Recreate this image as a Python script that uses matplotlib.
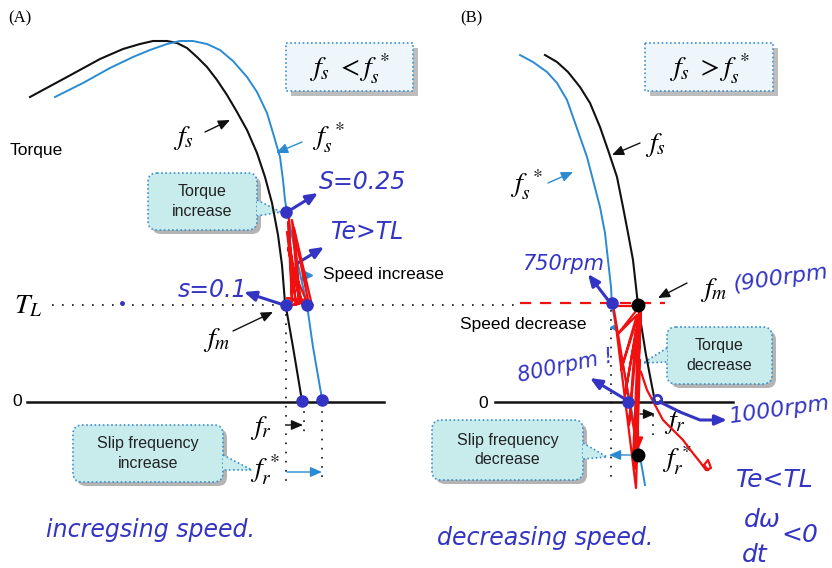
import matplotlib.pyplot as plt
from matplotlib.patches import FancyBboxPatch, Polygon

plt.rcParams['mathtext.fontset'] = 'stix'
plt.rcParams['font.family'] = ['Liberation Sans', 'DejaVu Sans']

# torque-speed curves, drawn in pixel units of the page (y grows downward)
a_fs_x = [30, 67, 100, 123, 140, 153, 167, 177, 187, 197, 207, 217, 227, 237, 247, 257,
          265, 272, 278, 282, 285, 287, 293, 302]
a_fs_y = [97, 77, 59, 49, 44, 41, 41, 43, 48, 57, 67, 80, 95, 112, 130, 153,
          177, 203, 235, 265, 303, 313, 347, 401]
a_fss_x = [55, 83, 110, 133, 150, 167, 180, 193, 207, 220, 233, 247, 257, 267, 273, 280,
           283, 285, 287, 297, 307, 313, 322]
a_fss_y = [97, 83, 68, 57, 50, 44, 41, 41, 44, 50, 61, 77, 92, 113, 133, 157,
           180, 200, 212, 260, 305, 347, 399]

b_fss_x = [520, 533, 547, 557, 567, 573, 580, 587, 593, 600, 605, 608, 611, 612, 621, 630, 638, 645]
b_fss_y = [55, 62, 72, 83, 100, 117, 137, 157, 180, 207, 233, 260, 287, 305, 355, 402, 445, 485]
b_fs_x = [545, 557, 568, 580, 590, 600, 608, 617, 623, 628, 633, 636, 638, 646, 655]
b_fs_y = [55, 62, 72, 87, 103, 127, 150, 177, 207, 233, 260, 287, 305, 355, 402]

TL_y = 305
zero_y = 402

# operating points
a_dots_x = [286, 286, 307, 302, 322]
a_dots_y = [212, 305, 305, 401, 400]
b_blue_x = [612, 628]
b_blue_y = [303, 402]
b_black_x = [638, 638]
b_black_y = [305, 455]

# scribbled areas between the curves
a_red_x = [289, 292, 288, 296, 287, 300, 288, 303, 290, 306, 287, 309, 292, 299, 286, 311, 294, 300]
a_red_y = [215, 302, 222, 305, 232, 302, 248, 306, 262, 300, 298, 305, 220, 304, 306, 301, 228, 300]
b_red_x = [613, 640, 617, 637, 621, 640, 625, 636, 629, 639, 633, 640, 636, 614, 637, 634, 641, 636]
b_red_y = [306, 306, 335, 315, 370, 310, 395, 330, 425, 318, 460, 360, 488, 310, 448, 470, 308, 440]
b_red_tail_x = [641, 647, 655, 663, 673, 683, 692, 700, 706, 711, 708, 704, 708]
b_red_tail_y = [372, 390, 405, 420, 430, 440, 452, 462, 470, 468, 460, 465, 470]

BLACK = '#111111'
BLUE = '#2a8bd2'
PEN = '#3434c4'
RED = '#f01010'
FILL = '#c8ecec'

fig = plt.figure(figsize=(8.32, 5.68), dpi=100)
ax = fig.add_axes([0, 0, 1, 1])
ax.set_xlim(0, 832)
ax.set_ylim(568, 0)
ax.axis('off')


def callout(x0, y0, x1, y1, base, tip, text):
    # rounded speech box with a wedge pointer and a grey drop shadow
    for dx, fc, ec in [(4, '#b4b4b4', 'none'), (0, FILL, '#3a8fd0')]:
        ax.add_patch(FancyBboxPatch((x0 + dx, y0 + dx), x1 - x0, y1 - y0,
                                    boxstyle='round,pad=0,rounding_size=9',
                                    fc=fc, ec=ec, lw=1.2, ls=(0, (1, 1.5)),
                                    zorder=3 if dx == 0 else 2))
    w = Polygon([base[0], tip, base[1]], closed=False, fc=FILL, ec='none', zorder=3.5)
    ax.add_patch(w)
    ax.plot([base[0][0], tip[0], base[1][0]], [base[0][1], tip[1], base[1][1]],
            color='#3a8fd0', lw=1.2, ls=(0, (1, 1.5)), zorder=3.6)
    ax.text((x0 + x1) / 2, (y0 + y1) / 2, text, ha='center', va='center',
            fontsize=11.5, color='#222222', linespacing=1.35, zorder=4)


def formula_box(x0, y0, x1, y1, text):
    ax.add_patch(FancyBboxPatch((x0 + 5, y0 + 5), x1 - x0, y1 - y0, boxstyle='square,pad=0',
                                fc='#bdbdbd', ec='none', zorder=2))
    ax.add_patch(FancyBboxPatch((x0, y0), x1 - x0, y1 - y0, boxstyle='square,pad=0',
                                fc='#eef6fc', ec='#3a8fd0', lw=1.2, ls=(0, (1, 1.5)), zorder=3))
    ax.text((x0 + x1) / 2, (y0 + y1) / 2 + 2, text, ha='center', va='center',
            fontsize=20, zorder=4)


def arrow(x0, y0, x1, y1, color, lw=1.0):
    ax.annotate('', xy=(x1, y1), xytext=(x0, y0),
                arrowprops=dict(arrowstyle='-|>,head_length=0.7,head_width=0.3',
                                color=color, lw=lw, shrinkA=0, shrinkB=0), zorder=5)


def pen(x, y, s, size=15, rot=0):
    ax.text(x, y, s, color=PEN, fontsize=size, rotation=rot, ha='center', va='center',
            family='DejaVu Sans', style='oblique', zorder=8)


# ---- panel (A) ----
ax.text(8, 18, '(A)', fontsize=12, family='Liberation Serif', va='center')
ax.plot(a_fs_x, a_fs_y, color=BLACK, lw=1.5, zorder=4)
ax.plot(a_fss_x, a_fss_y, color=BLUE, lw=1.4, zorder=4)
ax.plot([27, 384], [zero_y, zero_y], color=BLACK, lw=1.8, zorder=4)
ax.plot([52, 520], [TL_y, TL_y], color=BLACK, lw=1.2, ls=(0, (1, 5)), zorder=1)
ax.plot([286, 286], [TL_y, 482], color=BLACK, lw=1.2, ls=(0, (1, 4.5)), zorder=1)
ax.plot([304, 304], [zero_y, 436], color=BLACK, lw=1.2, ls=(0, (1, 4.5)), zorder=1)
ax.plot([322, 322], [zero_y, 482], color=BLACK, lw=1.2, ls=(0, (1, 4.5)), zorder=1)

ax.text(10, 150, 'Torque', fontsize=12.5, va='center')
ax.text(12, 402, '0', fontsize=12.5, va='center')
ax.text(14, 306, r'$T_L$', fontsize=20, va='center')
formula_box(286, 43, 413, 91, r'$f_s\ <f_s^{\,*}$')

ax.text(173, 138, r'$f_s$', fontsize=20, va='center')
arrow(205, 132, 230, 120, BLACK)
ax.text(312, 138, r'$f_s^{\ *}$', fontsize=20, va='center')
arrow(302, 142, 276, 153, BLUE)
ax.text(203, 340, r'$f_m$', fontsize=20, va='center')
arrow(233, 331, 273, 312, BLACK)
ax.text(250, 428, r'$f_r$', fontsize=20, va='center')
arrow(287, 425, 303, 425, BLACK)
ax.text(250, 470, r'$f_r^{\,*}$', fontsize=20, va='center')
arrow(287, 472, 322, 472, BLUE)

ax.plot([307], [275], marker='>', color=BLUE, ms=7, zorder=5)
ax.text(323, 275, 'Speed increase', fontsize=12.5, va='center')

callout(148, 173, 257, 230, [(257, 200), (257, 216)], (281, 212), 'Torque\nincrease')
callout(73, 425, 223, 482, [(223, 455), (223, 470)], (252, 470), 'Slip frequency\nincrease')

ax.plot(a_red_x, a_red_y, color=RED, lw=1.6, zorder=6)
ax.plot(a_dots_x, a_dots_y, ls='none', marker='o', ms=8, color=PEN, zorder=7)

arrow(292, 209, 318, 193, PEN, lw=2.2)
pen(362, 182, 'S=0.25', 17)
arrow(296, 264, 324, 247, PEN, lw=2.2)
pen(368, 232, 'Te>TL', 17)
arrow(284, 305, 244, 292, PEN, lw=2.2)
pen(212, 290, 's=0.1', 17)
ax.plot([122], [303], marker='o', ms=2.5, color=PEN, zorder=7)
pen(150, 530, 'incregsing speed.', 17)

# ---- panel (B) ----
ax.text(460, 18, '(B)', fontsize=12, family='Liberation Serif', va='center')
ax.plot(b_fss_x, b_fss_y, color=BLUE, lw=1.4, zorder=4)
ax.plot(b_fs_x, b_fs_y, color=BLACK, lw=1.5, zorder=4)
ax.plot([495, 733], [zero_y, zero_y], color=BLACK, lw=1.8, zorder=4)
ax.plot([520, 665], [303, 303], color=RED, lw=1.6, ls=(0, (5, 4)), zorder=6)
ax.plot([611, 611], [310, 478], color=BLACK, lw=1.2, ls=(0, (1, 4.5)), zorder=1)
ax.plot([653, 653], [415, 436], color=BLACK, lw=1.2, ls=(0, (1, 4.5)), zorder=1)

ax.text(478, 403, '0', fontsize=12.5, va='center')
formula_box(645, 43, 773, 91, r'$f_s\ >f_s^{\,*}$')

ax.text(645, 145, r'$f_s$', fontsize=20, va='center')
arrow(640, 143, 612, 155, BLACK)
ax.text(510, 185, r'$f_s^{\ *}$', fontsize=20, va='center')
arrow(548, 183, 573, 172, BLUE)
ax.text(700, 290, r'$f_m$', fontsize=20, va='center')
arrow(687, 283, 658, 298, BLACK)
ax.text(664, 422, r'$f_r$', fontsize=20, va='center')
arrow(640, 414, 655, 414, BLACK)
ax.text(662, 460, r'$f_r^{\,*}$', fontsize=20, va='center')
arrow(638, 455, 609, 455, BLUE)

ax.text(460, 325, 'Speed decrease', fontsize=12.5, va='center')
ax.plot([613], [327], marker='<', color=BLUE, ms=4, zorder=5)

callout(667, 327, 772, 384, [(667, 348), (667, 362)], (643, 363), 'Torque\ndecrease')
callout(432, 420, 583, 480, [(583, 443), (583, 459)], (607, 457), 'Slip frequency\ndecrease')

ax.plot(b_red_x, b_red_y, color=RED, lw=1.6, zorder=6)
ax.plot(b_red_tail_x, b_red_tail_y, color=RED, lw=1.6, zorder=6)
arrow(638, 430, 638, 450, RED, lw=1.6)
ax.plot(b_blue_x, b_blue_y, ls='none', marker='o', ms=8, color=PEN, zorder=7)
ax.plot(b_black_x, b_black_y, ls='none', marker='o', ms=9, color='black', zorder=7)
ax.plot([657], [399], ls='none', marker='o', ms=6, mfc='none', mec=PEN, mew=2, zorder=7)

arrow(608, 300, 588, 274, PEN, lw=2.2)
pen(563, 264, '750rpm', 15)
pen(780, 278, '(900rpm', 16, rot=8)
arrow(625, 399, 590, 378, PEN, lw=2.2)
pen(565, 366, '800rpm !', 15, rot=12)
ax.plot([660, 680, 700, 715], [402, 412, 420, 420], color=PEN, lw=2.2, zorder=7)
arrow(715, 420, 727, 420, PEN, lw=2.2)
pen(780, 410, '1000rpm', 16, rot=8)
pen(775, 480, 'Te<TL', 18)
pen(762, 520, 'dω', 18)
pen(755, 555, 'dt', 18)
pen(800, 535, '<0', 18)
pen(545, 538, 'decreasing speed.', 17)

plt.savefig('out.png', dpi=100)
